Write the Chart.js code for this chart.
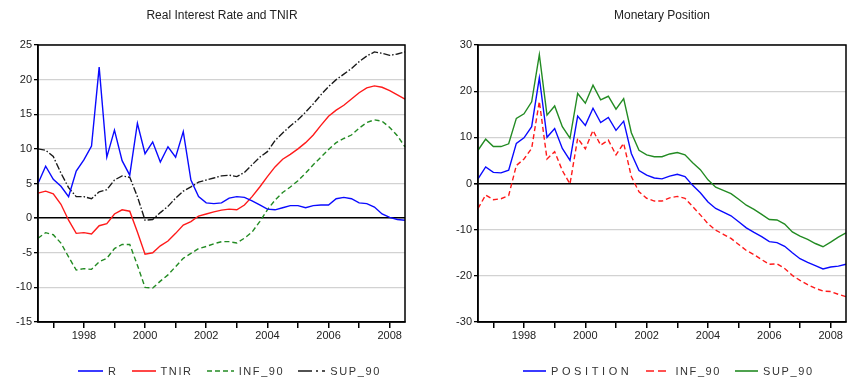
<!DOCTYPE html>
<html>
<head>
<meta charset="utf-8">
<script src="https://cdn.jsdelivr.net/npm/chart.js@4.4.1/dist/chart.umd.min.js"></script>
<style>
  html, body { margin: 0; padding: 0; background: #fff; }
  #wrap { position: relative; width: 858px; height: 382px; font-family: "Liberation Sans", Arial, sans-serif; color: #222; }
  .panel { position: absolute; top: 0; width: 429px; height: 382px; }
  .title { position: absolute; top: 8px; font-size: 12px; white-space: nowrap; transform: translateX(-50%); color: #222; }
  .legend { position: absolute; top: 365px; display: flex; align-items: center; font-size: 11px; color: #333; white-space: nowrap; }
  .legend .item { display: flex; align-items: center; margin-right: 14px; letter-spacing: 1.6px; }
  .legend svg { margin-right: 5px; }
  .legend .wide { letter-spacing: 3.6px; }
</style>
</head>
<body>
<div id="wrap">
  <div class="panel" style="left:0"><canvas id="left" width="429" height="382"></canvas></div>
  <div class="panel" style="left:429px"><canvas id="right" width="429" height="382"></canvas></div>
  <div class="title" style="left:222px">Real Interest Rate and TNIR</div>
  <div class="title" style="left:662px">Monetary Position</div>
  <div class="legend" id="legendLeft" style="left:78px"></div>
  <div class="legend" id="legendRight" style="left:523px"></div>
</div>
<script>
// Quarterly observations, 1996Q3 - 2008Q3
const quarters = [
  '1996Q3','1996Q4',
  '1997Q1','1997Q2','1997Q3','1997Q4',
  '1998Q1','1998Q2','1998Q3','1998Q4',
  '1999Q1','1999Q2','1999Q3','1999Q4',
  '2000Q1','2000Q2','2000Q3','2000Q4',
  '2001Q1','2001Q2','2001Q3','2001Q4',
  '2002Q1','2002Q2','2002Q3','2002Q4',
  '2003Q1','2003Q2','2003Q3','2003Q4',
  '2004Q1','2004Q2','2004Q3','2004Q4',
  '2005Q1','2005Q2','2005Q3','2005Q4',
  '2006Q1','2006Q2','2006Q3','2006Q4',
  '2007Q1','2007Q2','2007Q3','2007Q4',
  '2008Q1','2008Q2','2008Q3'
];

// Real interest rate and neutral rate band
const rSeries = [
  5.0, 7.5, 5.6, 4.6, 3.1, 6.8, 8.4, 10.4, 21.8, 8.8,
  12.7, 8.3, 6.2, 13.7, 9.3, 11.0, 8.1, 10.3, 8.8, 12.5,
  5.5, 3.1, 2.2, 2.1, 2.2, 2.9, 3.1, 3.0, 2.5, 1.9,
  1.3, 1.2, 1.5, 1.8, 1.8, 1.5, 1.8, 1.9, 1.9, 2.8,
  3.0, 2.8, 2.2, 2.1, 1.6, 0.6, 0.1, -0.2, -0.3
];
const tnirSeries = [
  3.6, 3.9, 3.5, 2.0, -0.3, -2.2, -2.1, -2.3, -1.1, -0.8,
  0.6, 1.2, 1.0, -2.0, -5.2, -5.0, -4.0, -3.3, -2.2, -1.0,
  -0.5, 0.3, 0.6, 0.9, 1.15, 1.3, 1.2, 1.9, 3.1, 4.5,
  6.0, 7.4, 8.5, 9.2, 10.0, 10.9, 12.0, 13.4, 14.7, 15.6,
  16.3, 17.2, 18.1, 18.8, 19.1, 18.9, 18.4, 17.8, 17.2
];
const infLeft = [
  -2.9, -2.1, -2.4, -3.6, -5.6, -7.5, -7.3, -7.4, -6.3, -5.8,
  -4.4, -3.8, -3.8, -6.8, -10.0, -10.1, -9.1, -8.2, -7.0, -5.8,
  -5.1, -4.4, -4.1, -3.7, -3.4, -3.4, -3.6, -2.9, -2.0, -0.5,
  1.2, 2.6, 3.7, 4.5, 5.4, 6.5, 7.7, 8.8, 9.9, 10.9,
  11.5, 12.0, 13.0, 13.8, 14.2, 14.0, 13.1, 11.9, 10.3
];
const supLeft = [
  10.0, 9.8, 8.9, 6.5, 4.4, 3.1, 3.1, 2.8, 3.8, 4.1,
  5.5, 6.1, 5.9, 3.1, -0.3, -0.2, 0.8, 1.7, 2.9, 3.9,
  4.5, 5.2, 5.5, 5.8, 6.1, 6.2, 6.0, 6.6, 7.7, 8.8,
  9.6, 11.2, 12.3, 13.3, 14.2, 15.3, 16.5, 17.8, 19.0, 20.0,
  20.8, 21.6, 22.6, 23.4, 24.0, 23.8, 23.5, 23.7, 24.0
];

// Monetary position and its band
const positionSeries = [
  1.0, 3.6, 2.4, 2.3, 2.9, 8.7, 9.9, 12.3, 22.9, 10.0,
  11.9, 7.6, 5.0, 14.6, 12.6, 16.3, 13.2, 14.3, 11.5, 13.5,
  6.5, 2.8, 1.8, 1.2, 1.0, 1.6, 2.0, 1.5, -0.4, -2.0,
  -4.0, -5.4, -6.2, -7.0, -8.3, -9.6, -10.6, -11.5, -12.6, -12.8,
  -13.6, -15.0, -16.3, -17.1, -17.8, -18.5, -18.1, -17.9, -17.5
];
const infRight = [
  -5.4, -2.5, -3.5, -3.3, -2.6, 3.9, 5.3, 7.6, 17.8, 5.3,
  6.9, 2.8, -0.1, 9.8, 7.5, 11.5, 8.3, 9.4, 6.2, 8.7,
  1.5, -1.8, -3.2, -3.8, -3.8, -3.1, -2.8, -3.2, -5.0, -6.8,
  -8.7, -10.1, -11.0, -11.9, -13.2, -14.5, -15.4, -16.5, -17.5, -17.4,
  -18.4, -19.9, -21.0, -21.9, -22.7, -23.3, -23.4, -24.0, -24.5
];
const supRight = [
  7.2, 9.6, 8.0, 8.0, 8.6, 14.1, 15.1, 17.7, 27.9, 14.8,
  16.8, 12.3, 9.8, 19.5, 17.4, 21.3, 18.1, 18.9, 16.1, 18.4,
  11.0, 7.2, 6.2, 5.8, 5.8, 6.4, 6.7, 6.2, 4.5, 3.0,
  0.8, -0.8, -1.5, -2.2, -3.4, -4.7, -5.6, -6.7, -7.8, -7.9,
  -8.8, -10.5, -11.4, -12.1, -13.0, -13.7, -12.7, -11.6, -10.7
];

const yTicksLeft = [-15, -10, -5, 0, 5, 10, 15, 20, 25];
const yTicksRight = [-30, -20, -10, 0, 10, 20, 30];

const BLUE = '#0a0aff', RED = '#ff1a1a', GREEN = '#238b23', BLACK = '#1a1a1a';
const DASH = [5, 3], DASHDOT = [7, 2, 1.5, 2];

Chart.defaults.font.family = '"Liberation Sans", Arial, sans-serif';
Chart.defaults.font.size = 11;
Chart.defaults.color = '#222';

// Closes the plot box on the top and right sides
const frame = {
  id: 'frame',
  afterDatasetsDraw(chart) {
    const a = chart.chartArea, ctx = chart.ctx;
    ctx.save();
    ctx.strokeStyle = '#000';
    ctx.lineWidth = 1.5;
    ctx.strokeRect(a.left, a.top, a.right - a.left, a.bottom - a.top);
    ctx.restore();
  }
};

function line(label, data, color, dash) {
  return {
    label, data, borderColor: color, backgroundColor: color,
    borderWidth: 1.4, borderDash: dash || [], pointRadius: 0, tension: 0, fill: false
  };
}

function makeChart(id, datasets, yMin, yMax, yTicks, yWidth, padRight) {
  return new Chart(document.getElementById(id), {
    type: 'line',
    data: { labels: quarters, datasets },
    options: {
      responsive: false,
      animation: false,
      layout: { padding: { top: 45, right: padRight, bottom: 0, left: 0 } },
      plugins: { legend: { display: false }, title: { display: false }, tooltip: { enabled: false } },
      scales: {
        x: {
          type: 'category',
          offset: false,
          afterBuildTicks: s => { s.ticks = s.ticks.filter(t => quarters[t.value].endsWith('Q1')); },
          afterFit: s => { s.height = 60; },
          ticks: {
            autoSkip: false, maxRotation: 0, minRotation: 0, padding: 1, color: '#222',
            callback: v => { const yr = +quarters[v].slice(0, 4); return yr % 2 === 0 ? String(yr) : ''; }
          },
          grid: { drawOnChartArea: false, drawTicks: true, tickLength: 6, color: '#000', lineWidth: 1.5 },
          border: { color: '#000', width: 1.5 }
        },
        y: {
          min: yMin, max: yMax,
          afterBuildTicks: s => { s.ticks = yTicks.map(v => ({ value: v })); },
          afterFit: s => { s.width = yWidth; },
          ticks: { padding: 2, color: '#222' },
          grid: {
            color: c => (c.tick && c.tick.value === 0) ? '#000' : '#d2d2d2',
            lineWidth: c => (c.tick && c.tick.value === 0) ? 1.6 : 1.3,
            tickColor: '#000', tickLength: 4, drawTicks: true
          },
          border: { color: '#000', width: 1.5 }
        }
      }
    },
    plugins: [frame]
  });
}

makeChart('left', [
  line('R', rSeries, BLUE),
  line('TNIR', tnirSeries, RED),
  line('INF_90', infLeft, GREEN, DASH),
  line('SUP_90', supLeft, BLACK, DASHDOT)
], -15, 25, yTicksLeft, 38, 24);

makeChart('right', [
  line('POSITION', positionSeries, BLUE),
  line('INF_90', infRight, RED, DASH),
  line('SUP_90', supRight, GREEN)
], -30, 30, yTicksRight, 49, 12);

// Legends below each panel
function legend(id, items) {
  const el = document.getElementById(id);
  items.forEach(it => {
    const d = document.createElement('div');
    d.className = 'item' + (it.wide ? ' wide' : '');
    d.innerHTML = '<svg width="' + it.w + '" height="8"><line x1="0" y1="4" x2="' + it.w + '" y2="4" stroke="' + it.color +
      '" stroke-width="1.6" stroke-dasharray="' + (it.dash ? it.dash.join(',') : 'none') + '"/></svg><span>' + it.label + '</span>';
    el.appendChild(d);
  });
}
legend('legendLeft', [
  { label: 'R', color: BLUE, w: 25 },
  { label: 'TNIR', color: RED, w: 24 },
  { label: 'INF_90', color: GREEN, dash: DASH, w: 27 },
  { label: 'SUP_90', color: BLACK, dash: [14, 4, 2, 4], w: 27 }
]);
legend('legendRight', [
  { label: 'POSITION', color: BLUE, w: 23, wide: true },
  { label: 'INF_90', color: RED, dash: [8, 4], w: 24 },
  { label: 'SUP_90', color: GREEN, w: 23 }
]);
</script>
</body>
</html>
